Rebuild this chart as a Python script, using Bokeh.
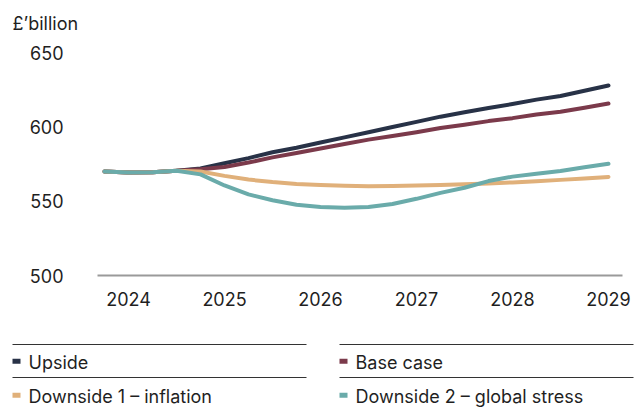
from bokeh.plotting import figure
from bokeh.models import Range1d, FixedTicker
from bokeh.layouts import column
from bokeh.embed import file_html
from bokeh.resources import INLINE
from bokeh.core.properties import value

# ---- data ----
quarters = [2023.75, 2024.0, 2024.25, 2024.5, 2024.75, 2025.0, 2025.25, 2025.5, 2025.75,
            2026.0, 2026.25, 2026.5, 2026.75, 2027.0, 2027.25, 2027.5, 2027.75,
            2028.0, 2028.25, 2028.5, 2028.75, 2029.0]
upside = [570.3, 569.6, 569.8, 570.8, 572.3, 575.8, 579.3, 583.3, 586.3, 589.8, 593.3, 596.8,
          600.3, 603.8, 607.3, 610.3, 613.1, 615.8, 618.8, 621.3, 624.8, 628.4]
base_case = [570.3, 569.6, 569.8, 570.8, 571.8, 573.3, 576.3, 579.8, 582.8, 585.8, 588.8, 591.8,
             594.3, 596.8, 599.6, 601.8, 604.3, 606.3, 608.8, 610.6, 613.3, 616.2]
downside1 = [570.3, 569.6, 569.8, 570.8, 570.3, 567.3, 564.8, 563.1, 561.8, 561.1, 560.6, 560.3,
             560.5, 560.8, 561.2, 561.6, 562.2, 562.9, 563.7, 564.6, 565.6, 566.6]
downside2 = [570.3, 569.6, 569.8, 570.8, 568.3, 560.8, 554.8, 550.8, 547.8, 546.3, 545.8, 546.3,
             548.3, 551.8, 555.8, 559.3, 563.8, 566.8, 568.8, 570.6, 573.1, 575.5]
series_names = ["Upside", "Base case", "Downside 1 \u2013 inflation", "Downside 2 \u2013 global stress"]
series_colors = ["#283247", "#7b3a4b", "#e0b07a", "#6aabaa"]
x_ticks = [2024, 2025, 2026, 2027, 2028, 2029]
y_ticks = [500, 550, 600, 650]
unit_label = "\u00a3\u2019billion"

FONT = "Inter"
TXT = "#1f1f1f"

p = figure(width=639, height=320, output_backend="svg", toolbar_location=None,
           x_range=Range1d(2023.677, 2029.146), y_range=Range1d(500, 657.4),
           min_border_left=97, min_border_right=17, min_border_top=42, min_border_bottom=45)
p.outline_line_color = None
p.xgrid.visible = False
p.ygrid.visible = False

for ys, c in zip([upside, base_case, downside1, downside2], series_colors):
    p.line(quarters, ys, line_color=c, line_width=4, line_cap="round", line_join="round")

p.xaxis.ticker = FixedTicker(ticks=x_ticks)
p.xaxis.axis_line_color = "#9a9a9a"
p.xaxis.axis_line_width = 2
p.xaxis.major_tick_line_color = None
p.xaxis.minor_tick_line_color = None
p.xaxis.major_tick_out = 0
p.xaxis.major_label_standoff = 16
p.xaxis.major_label_text_font = FONT
p.xaxis.major_label_text_font_size = "18px"
p.xaxis.major_label_text_color = TXT

p.yaxis.ticker = FixedTicker(ticks=y_ticks)
p.yaxis.axis_line_color = None
p.yaxis.major_tick_line_color = None
p.yaxis.minor_tick_line_color = None
p.yaxis.major_tick_out = 0
p.yaxis.major_label_standoff = 34
p.yaxis.major_label_text_font = FONT
p.yaxis.major_label_text_font_size = "18px"
p.yaxis.major_label_text_color = TXT

p.title.text = unit_label
p.title.align = "left"
p.title.offset = -85
p.title.standoff = 18
p.title.text_font = FONT
p.title.text_font_size = "18px"
p.title.text_font_style = "normal"
p.title.text_color = TXT

# ---- legend panel ----
leg = figure(width=639, height=90, output_backend="svg", toolbar_location=None,
             x_range=Range1d(0, 639), y_range=Range1d(90, 0),
             min_border=0, min_border_left=0, min_border_right=0,
             min_border_top=0, min_border_bottom=0)
leg.axis.visible = False
leg.grid.visible = False
leg.outline_line_color = None

col_x = [12, 339]
col_w = 294
sep_y = [24, 57]
row_y = [42, 76]
for cx in col_x:
    leg.segment(x0=[cx, cx], y0=sep_y, x1=[cx + col_w, cx + col_w], y1=sep_y,
                line_color="#333333", line_width=1)

for i, (name, c) in enumerate(zip(series_names, series_colors)):
    cx = col_x[i % 2]
    ry = row_y[i // 2]
    leg.rect(x=[cx + 4], y=[ry - 1.2], width=8, height=5, fill_color=c, line_color=None)
    leg.text(x=[cx + 16], y=[ry], text=[name], text_font=value(FONT),
             text_font_size="18px", text_color=TXT, text_baseline="middle", text_align="left")

open("out.html", "w").write(file_html(column(p, column(leg, spacing=0), spacing=0), INLINE))
